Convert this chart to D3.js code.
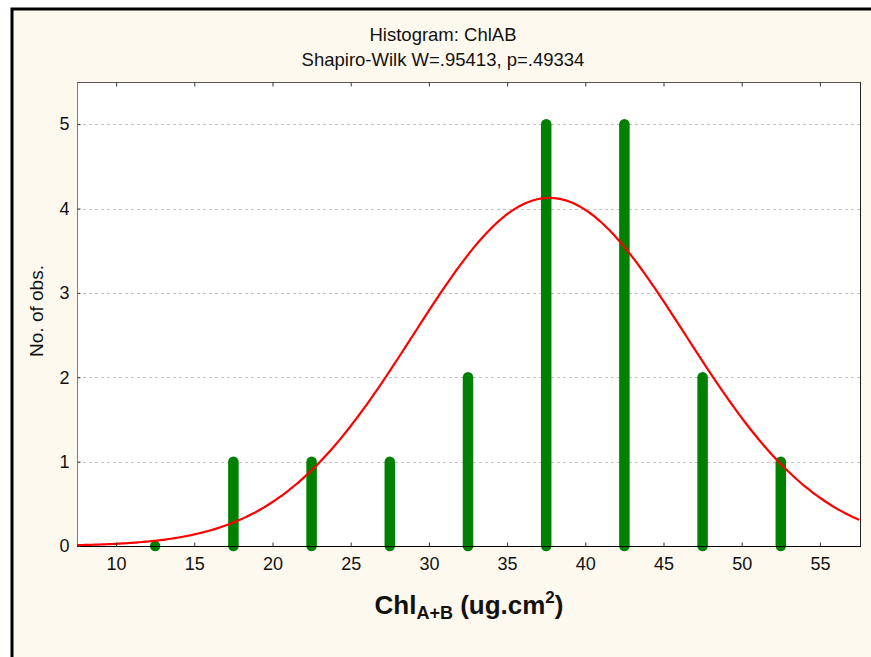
<!DOCTYPE html>
<html>
<head>
<meta charset="utf-8">
<script src="https://cdn.jsdelivr.net/npm/d3@7"></script>
<style>
  html, body { margin: 0; padding: 0; background: #ffffff; }
  svg { display: block; font-family: "Liberation Sans", Arial, sans-serif; }
</style>
</head>
<body>
<script>
// Histogram bins (midpoints) and observed counts
const binMids = [12.5, 17.5, 22.5, 27.5, 32.5, 37.5, 42.5, 47.5, 52.5];
const counts  = [0, 1, 1, 1, 2, 5, 5, 2, 1];
const xTicks = [10, 15, 20, 25, 30, 35, 40, 45, 50, 55];
const yTicks = [0, 1, 2, 3, 4, 5];

// Fitted normal curve parameters
const fitMean = 37.7;
const fitSd = 8.7;
const nObs = 18;
const binWidth = 5;

const title = "Histogram: ChlAB";
const subtitle = "Shapiro-Wilk W=.95413, p=.49334";

const W = 871, H = 657;
const plot = { left: 77, right: 861, top: 82, bottom: 546 };
const FONT = "Liberation Sans, Arial, sans-serif";

const svg = d3.select("body").append("svg")
  .attr("width", W).attr("height", H);

// outer frame
svg.append("rect").attr("x", 0).attr("y", 0).attr("width", W).attr("height", H).attr("fill", "#ffffff");
svg.append("rect").attr("x", 12).attr("y", 9).attr("width", W + 10).attr("height", H + 10)
  .attr("fill", "#fef9ee").attr("stroke", "#000").attr("stroke-width", 3);

// plot background
svg.append("rect")
  .attr("x", plot.left).attr("y", plot.top)
  .attr("width", plot.right - plot.left).attr("height", plot.bottom - plot.top)
  .attr("fill", "#ffffff");

const x = d3.scaleLinear().domain([7.5, 57.5]).range([plot.left, plot.right - 2]);
const y = d3.scaleLinear().domain([0, 5.5]).range([plot.bottom, plot.top]);

// dashed grid
svg.append("g").selectAll("line").data(yTicks.filter(d => d > 0)).join("line")
  .attr("x1", plot.left).attr("x2", plot.right)
  .attr("y1", d => Math.round(y(d)) + 0.5).attr("y2", d => Math.round(y(d)) + 0.5)
  .attr("stroke", "#c4c4c4").attr("stroke-width", 1).attr("stroke-dasharray", "3,3");

// frame of plot area
svg.append("line").attr("x1", plot.left + 0.5).attr("x2", plot.left + 0.5)
  .attr("y1", plot.top).attr("y2", plot.bottom).attr("stroke", "#7f7f7f");
svg.append("line").attr("x1", plot.left).attr("x2", plot.right)
  .attr("y1", plot.top + 0.5).attr("y2", plot.top + 0.5).attr("stroke", "#555");
svg.append("line").attr("x1", plot.right - 0.5).attr("x2", plot.right - 0.5)
  .attr("y1", plot.top).attr("y2", plot.bottom).attr("stroke", "#222");

// bars drawn as thick rounded lines
svg.append("g").selectAll("line").data(binMids).join("line")
  .attr("x1", d => x(d)).attr("x2", d => x(d))
  .attr("y1", (d, i) => y(counts[i])).attr("y2", y(0))
  .attr("stroke", "#008000").attr("stroke-width", 10.5).attr("stroke-linecap", "round");

// fitted normal curve
const pdf = v => nObs * binWidth / (fitSd * Math.sqrt(2 * Math.PI)) *
  Math.exp(-0.5 * Math.pow((v - fitMean) / fitSd, 2));
const curvePts = d3.range(7.5, 57.5001, 0.25).map(v => [v, pdf(v)]);
svg.append("path").datum(curvePts)
  .attr("fill", "none").attr("stroke", "#ff0000").attr("stroke-width", 2.2)
  .attr("d", d3.line().x(d => x(d[0])).y(d => y(d[1])).curve(d3.curveBasis));

// bottom axis (ticks inward)
const xAxis = svg.append("g").attr("transform", `translate(0,${plot.bottom + 0.5})`)
  .call(d3.axisBottom(x).tickValues(xTicks).tickSizeInner(-4).tickSizeOuter(0).tickPadding(11));
xAxis.select(".domain").attr("stroke", "#000").attr("d", `M${plot.left},0H${plot.right}`);
xAxis.selectAll(".tick line").attr("stroke", "#333");
xAxis.selectAll("text").attr("font-size", 18).attr("fill", "#111").attr("font-family", FONT);

// top ticks
svg.append("g").attr("transform", `translate(0,${plot.top + 0.5})`)
  .call(d3.axisTop(x).tickValues(xTicks).tickSizeInner(-4).tickSizeOuter(0).tickFormat(""))
  .call(g => g.select(".domain").remove())
  .selectAll(".tick line").attr("stroke", "#333");

// left axis
const yAxis = svg.append("g").attr("transform", `translate(${plot.left + 0.5},0)`)
  .call(d3.axisLeft(y).tickValues(yTicks).tickFormat(d3.format("d"))
    .tickSizeInner(-3).tickSizeOuter(0).tickPadding(8));
yAxis.select(".domain").remove();
yAxis.selectAll(".tick line").attr("stroke", "#333");
yAxis.selectAll("text").attr("font-size", 18).attr("fill", "#111").attr("font-family", FONT);

// titles
svg.append("text").attr("x", 443).attr("y", 41).attr("text-anchor", "middle")
  .attr("font-size", 18.5).attr("fill", "#111").text(title);
svg.append("text").attr("x", 443).attr("y", 66).attr("text-anchor", "middle")
  .attr("font-size", 18.5).attr("fill", "#111").text(subtitle);

// y axis title
svg.append("text").attr("transform", "translate(43,311) rotate(-90)")
  .attr("text-anchor", "middle").attr("font-size", 19).attr("fill", "#111")
  .text("No. of obs.");

// x axis title with subscript and superscript
const xt = svg.append("text").attr("x", 469).attr("y", 614).attr("text-anchor", "middle")
  .attr("font-size", 26).attr("font-weight", "bold").attr("fill", "#111");
xt.append("tspan").text("Chl");
xt.append("tspan").attr("font-size", 18).attr("dy", 5).text("A+B");
xt.append("tspan").attr("dy", -5).text(" (ug.cm");
xt.append("tspan").attr("font-size", 17).attr("dy", -11).text("2");
xt.append("tspan").attr("dy", 11).text(")");
</script>
</body>
</html>
